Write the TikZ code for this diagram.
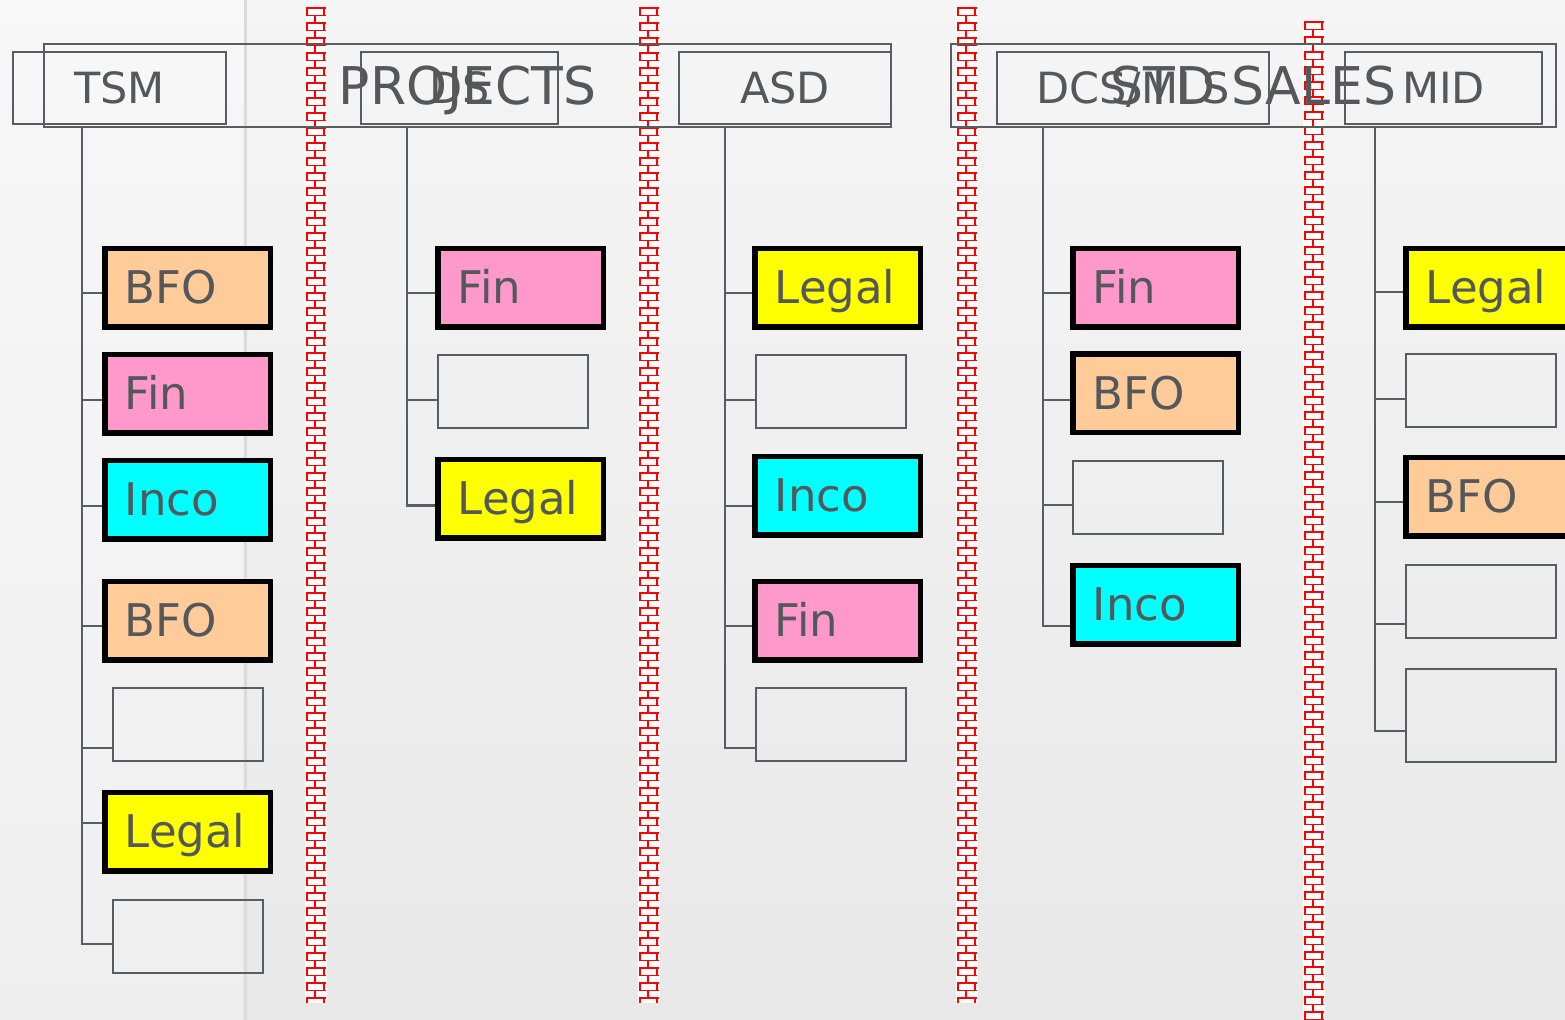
\documentclass[tikz,border=0pt]{standalone}
\usepackage{fontspec}
\setmainfont{DejaVu Sans}
\usetikzlibrary{positioning}

\definecolor{ink}{RGB}{84,88,90}
\definecolor{frame}{RGB}{88,93,95}
\definecolor{bfo}{RGB}{255,204,153}
\definecolor{fin}{RGB}{255,153,204}
\definecolor{inco}{RGB}{0,255,255}
\definecolor{legal}{RGB}{255,255,0}

\begin{document}
\begin{tikzpicture}[x=0.5pt,y=-0.5pt,
    group/.style={draw=frame,line width=1pt,minimum height=41.5pt,text=ink,
      text height=19pt,text depth=0pt,font=\fontsize{26}{26}\selectfont},
    hdr/.style={draw=frame,line width=1pt,minimum height=36pt,text=ink,
      text height=15.5pt,text depth=0pt,font=\fontsize{21.5}{21.5}\selectfont},
    unit/.style={draw=black,line width=2.75pt,fill=#1,text width=62.75pt,
      inner xsep=10pt,inner ysep=0pt,minimum height=39.25pt,align=left,
      text height=16pt,text depth=0pt,text=ink,font=\fontsize{22.5}{22.5}\selectfont},
    vacant/.style={draw=frame,line width=1pt,minimum width=75pt,minimum height=36.5pt},
    conn/.style={draw=frame,line width=1.25pt},
    brick/.style={draw=red,line width=0.75pt}]

  \clip (0,0) rectangle (1565,1020);
  \shade[top color=black!4,bottom color=black!9] (0,0) rectangle (1565,1020);
  \fill[white,opacity=0.3] (0,0) rectangle (243,1020);
  \draw[black!14,line width=1.5pt] (245,0) -- (245,1020);

  % brick walls between the groups
  \foreach \wx/\wt/\wb in {305/8/1003,638/8/1003,956/8/1003,1303/22/1020}{
    \begin{scope}
      \clip (\wx,\wt) rectangle (\wx+22,\wb);
      \fill[white] (\wx,\wt) rectangle (\wx+22,\wb);
      \foreach \r in {0,...,134}{
        \pgfmathsetmacro{\yy}{\wt+\r*7.5}
        \draw[brick] (\wx+1,\yy) -- ++(20,0);
        \ifodd\r
          \draw[brick] (\wx+10,\yy) -- ++(0,7.5);
        \else
          \draw[brick] (\wx+2,\yy) -- ++(0,7.5) (\wx+19,\yy) -- ++(0,7.5);
        \fi
      }
    \end{scope}
  }

  \node[group,minimum width=423.5pt] (projects) at (467.5,85.5) {PROJECTS};
  \node[group,minimum width=302.5pt] (sales) at (1253.5,85.5) {STD SALES};
  \node[hdr,minimum width=106.5pt] (tsm) at (119.5,88) {TSM};
  \node[hdr,minimum width=98.5pt] (ds) at (459.5,88) {DS};
  \node[hdr,minimum width=106pt] (asd) at (785,88) {ASD};
  \node[hdr,minimum width=136pt] (dcs) at (1133,88) {DCS/MLS};
  \node[hdr,minimum width=98.5pt] (mid) at (1443.5,88) {MID};

  \coordinate (tsmroot) at (82,127);
  \coordinate (dsroot) at (407,127);
  \coordinate (asdroot) at (725,127);
  \coordinate (dcsroot) at (1043,127);
  \coordinate (midroot) at (1375,127);

  % TSM
  \node[unit=bfo] (t1) at (187.5,288) {BFO};
  \node[unit=fin] (t2) at (187.5,394) {Fin};
  \node[unit=inco] (t3) at (187.5,500) {Inco};
  \node[unit=bfo] (t4) at (187.5,621) {BFO};
  \node[vacant] (t5) at (187.75,724.5) {};
  \node[unit=legal] (t6) at (187.5,832) {Legal};
  \node[vacant] (t7) at (187.75,936.5) {};
  \foreach \c/\s in {t1/-2.5,t2/-3,t3/-3,t4/-2.5,t5/-11.75,t6/4.5,t7/-3.75}
    \draw[conn] (tsmroot) |- ([yshift=\s]\c.west);

  % DS
  \node[unit=fin] (p1) at (520.5,288) {Fin};
  \node[vacant] (p2) at (513,391.5) {};
  \node[unit=legal] (p3) at (520.5,499) {Legal};
  \foreach \c/\s in {p1/-2.5,p2/-4.25,p3/-3.25}
    \draw[conn] (dsroot) |- ([yshift=\s]\c.west);

  % ASD
  \node[unit=legal] (a1) at (837.5,288) {Legal};
  \node[vacant] (a2) at (830.5,392) {};
  \node[unit=inco] (a3) at (837.5,496) {Inco};
  \node[unit=fin] (a4) at (837.5,621) {Fin};
  \node[vacant] (a5) at (830.5,724.5) {};
  \foreach \c/\s in {a1/-2.5,a2/-4,a3/-5,a4/-2.5,a5/-11.75}
    \draw[conn] (asdroot) |- ([yshift=\s]\c.west);

  % DCS
  \node[unit=fin] (d1) at (1155.5,288) {Fin};
  \node[unit=bfo] (d2) at (1155.5,393.5) {BFO};
  \node[vacant] (d3) at (1148,497.5) {};
  \node[unit=inco] (d4) at (1155.5,605) {Inco};
  \foreach \c/\s in {d1/-2.5,d2/-3.25,d3/-3.75,d4/-10.5}
    \draw[conn] (dcsroot) |- ([yshift=\s]\c.west);

  % MID
  \node[unit=legal] (m1) at (1488.5,288) {Legal};
  \node[vacant] (m2) at (1481,391) {};
  \node[unit=bfo] (m3) at (1488.5,497) {BFO};
  \node[vacant] (m4) at (1481,601.5) {};
  \node[vacant,minimum height=46.5pt] (m5) at (1481,715.5) {};
  \foreach \c/\s in {m1/-2,m2/-4,m3/-2.5,m4/-11.25,m5/-7.75}
    \draw[conn] (midroot) |- ([yshift=\s]\c.west);
\end{tikzpicture}
\end{document}
